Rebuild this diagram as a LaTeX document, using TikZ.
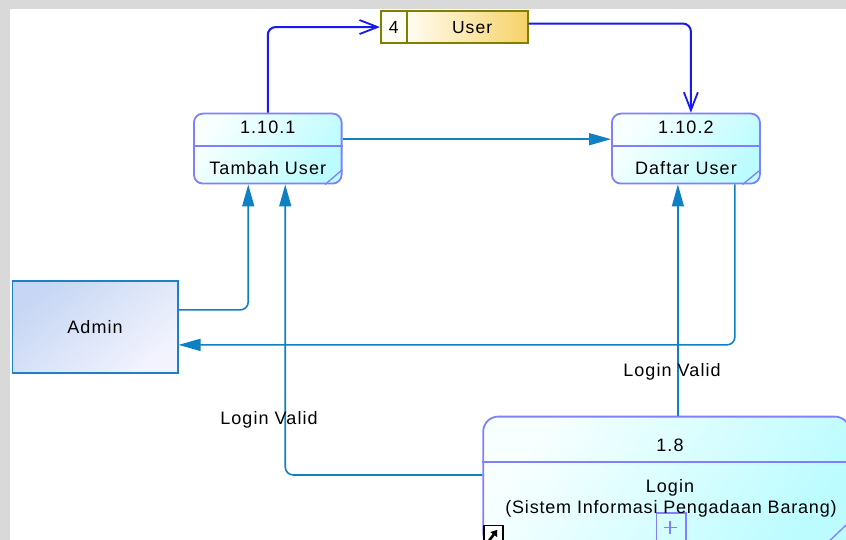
\documentclass[tikz,border=0pt]{standalone}
\usepackage{fontspec}
\setmainfont{Liberation Sans}[LetterSpace=6]
\usetikzlibrary{arrows.meta,calc}

\definecolor{flowteal}{RGB}{16,128,196}
\definecolor{flowblue}{RGB}{24,24,240}
\definecolor{procedge}{RGB}{128,128,255}
\definecolor{proclight}{RGB}{248,255,255}
\definecolor{procdark}{RGB}{188,252,255}
\definecolor{storeedge}{RGB}{128,128,0}
\definecolor{storelight}{RGB}{255,253,242}
\definecolor{storedark}{RGB}{247,210,105}
\definecolor{extedge}{RGB}{30,128,200}
\definecolor{extdark}{RGB}{198,214,244}
\definecolor{extlight}{RGB}{242,243,253}
\definecolor{framegrey}{RGB}{217,217,217}

\begin{document}
\begin{tikzpicture}[x=1pt,y=-1pt,
  txt/.style={inner sep=0pt, text height=12.9pt, text depth=0pt,
    font=\fontsize{18}{21}\selectfont},
  process/.style={draw=procedge, line width=1.8pt, rounded corners=9pt,
    top color=proclight, bottom color=procdark, shading angle=55,
    inner sep=0pt, anchor=north west},
  divider/.style={draw=procedge, line width=1.8pt},
  external/.style={draw=extedge, line width=1.5pt,
    top color=extdark, bottom color=extlight, shading angle=40,
    inner sep=0pt, anchor=north west, txt},
  storecell/.style={draw=storeedge, line width=1.8pt, inner sep=0pt,
    anchor=north west, minimum height=32.3pt},
  flow/.style={draw=flowteal, line width=1.6pt, rounded corners=8pt,
    -{Triangle[length=22pt,width=12pt]}},
  storeflow/.style={draw=flowblue, line width=2pt, rounded corners=8pt,
    -{Straight Barb[length=18pt,width=14pt,line width=1.8pt]}},
  flowlabel/.style={txt}
]
\path[use as bounding box] (0,0) rectangle (846,540);

% page and frame
\fill[white] (0,0) rectangle (846,540);
\fill[framegrey] (0,0) rectangle (846,9);
\fill[framegrey] (0,0) rectangle (10,540);

% data store 4: User
\node[storecell, fill=storelight!60!white, minimum width=25.7pt] (storeid) at (380,10) {};
\node[storecell, left color=storelight, right color=storedark, minimum width=121pt] (storename) at (405.7,10) {};
\node[txt, font=\fontsize{17.5}{20}\selectfont] (storeidtxt) at (storeid.center) {4};
\node[txt, font=\fontsize{17.5}{20}\selectfont] (storenametxt) at ([xshift=5pt]storename.center) {User};

% process 1.10.1
\node[process, minimum width=147.7pt, minimum height=70pt] (p1) at (193,112.7) {};
\draw[divider] ([yshift=-33pt]p1.north west) -- ([yshift=-33pt]p1.north east);
\draw[procedge, line width=1.3pt] ([xshift=-17.5pt]p1.south east) -- ([yshift=15pt]p1.south east);
\node[txt] (p1id) at ([yshift=-14pt]p1.north) {1.10.1};
\node[txt] (p1name) at ([yshift=-55pt]p1.north) {Tambah User};

% process 1.10.2
\node[process, minimum width=148pt, minimum height=70pt] (p2) at (611,112.7) {};
\draw[divider] ([yshift=-33pt]p2.north west) -- ([yshift=-33pt]p2.north east);
\draw[procedge, line width=1.3pt] ([xshift=-18.3pt]p2.south east) -- ([yshift=15pt]p2.south east);
\node[txt] (p2id) at ([yshift=-14pt]p2.north) {1.10.2};
\node[txt] (p2name) at ([yshift=-55pt]p2.north) {Daftar User};

% external entity
\node[external, minimum width=165.3pt, minimum height=92.3pt] (admin) at (11.7,280) {Admin};

% process 1.8 (Login), running off the page edge
\begin{scope}
\clip (0,0) rectangle (846,540);
\node[process, rounded corners=15pt, minimum width=366.7pt, minimum height=131.3pt] (login) at (482.3,415.7) {};
\draw[divider] ([yshift=-46.6pt]login.north west) -- ([yshift=-46.6pt]login.north east);
\draw[procedge, line width=1.3pt] ([xshift=-29.7pt]login.south east) -- ([yshift=28.2pt]login.south east);
\node[draw=procedge, line width=1.6pt, inner sep=0pt, minimum width=29.3pt,
  minimum height=34pt, anchor=north west] (expand) at (655.7,512.3) {};
\node[draw=black, line width=1.3pt, fill=white, inner sep=0pt, minimum width=19pt,
  minimum height=22pt, anchor=north west] (shortcut) at (483.3,524.8) {};
\end{scope}
\node[txt] (loginid) at (670,445) {1.8};
\node[txt] (loginname) at (670,486) {Login};
\node[txt, font=\fontsize{18}{21}\selectfont\addfontfeatures{LetterSpace=4.5}] (loginsys) at (671,506.7) {(Sistem Informasi Pengadaan Barang)};
\draw[procedge, line width=1.3pt] (663.5,527.7) -- (676.5,527.7) (670,521.2) -- (670,534.2);
\draw[black, line width=2.6pt, -{Triangle[length=6pt,width=8pt]}]
  ([xshift=5pt,yshift=-17pt]shortcut.north west) -- ([xshift=14pt,yshift=-5pt]shortcut.north west);

% data flows with the store
\draw[storeflow] (p1.north) |- (storeid.west);
\draw[storeflow] ([yshift=3.5pt]storename.east) -| ([xshift=5pt]p2.north);

% data flows between processes and the entity
\draw[flow] ([yshift=9.4pt]p1.east) -- ([yshift=9.4pt]p2.west);
\draw[flow] ([yshift=17pt]admin.east) -| ([xshift=-19.5pt]p1.south);
\draw[flow] ([yshift=7.3pt]login.west) -| ([xshift=17.5pt]p1.south);
\coordinate (lv2) at ([xshift=-8pt]p2.south);
\draw[flow] (lv2 |- login.north) -- (lv2);
\draw[flow] ([xshift=49pt]p2.south) |- ([yshift=-18pt]admin.east);

% flow labels
\node[flowlabel] (lbl1) at (269,418) {Login Valid};
\node[flowlabel] (lbl2) at (672,370) {Login Valid};
\end{tikzpicture}
\end{document}
